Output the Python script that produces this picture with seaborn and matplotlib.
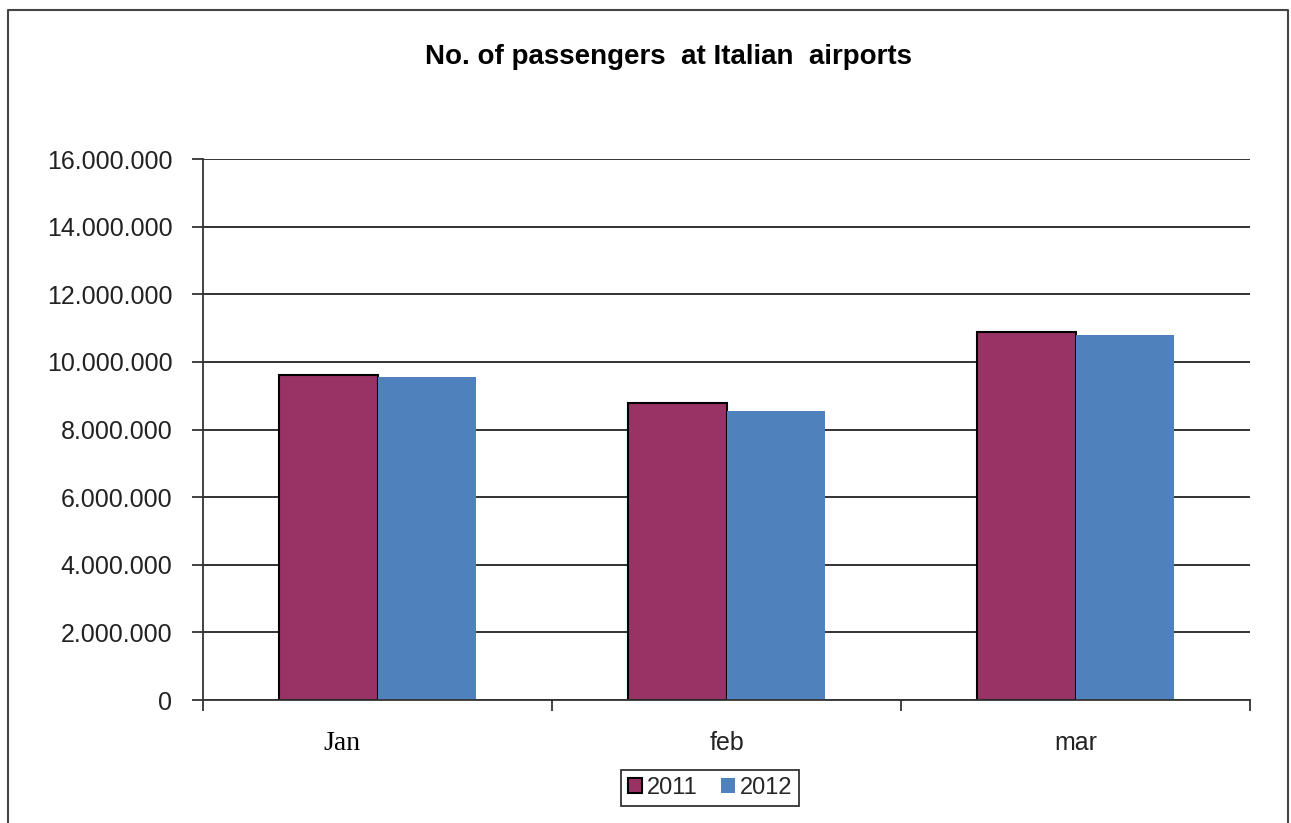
import matplotlib
matplotlib.use("Agg")
import matplotlib.pyplot as plt
import seaborn as sns
import pandas as pd
from matplotlib.patches import Patch
from matplotlib.lines import Line2D
from matplotlib.ticker import FuncFormatter, FixedLocator
from matplotlib.transforms import ScaledTranslation

months = ["Jan", "feb", "mar"]
series = ["2011", "2012"]
values_2011 = [9610000, 8780000, 10880000]
values_2012 = [9550000, 8550000, 10790000]
colors = {"2011": "#993366", "2012": "#4F81BD"}
yticks = list(range(0, 16000001, 2000000))

df = pd.DataFrame({
    "month": months * 2,
    "year": ["2011"] * 3 + ["2012"] * 3,
    "value": values_2011 + values_2012,
})

sns.set_style("white")
plt.rcParams["font.family"] = ["Liberation Sans", "DejaVu Sans"]

fig = plt.figure(figsize=(12.91, 8.23), dpi=100)
ax = fig.add_axes([203/1291, 1-700/823, (1250-203)/1291, (700-159)/823])

sns.barplot(data=df, x="month", y="value", hue="year", order=months,
            hue_order=series, palette=colors, width=0.567, saturation=1,
            ax=ax, legend=False, linewidth=0)

for i, p in enumerate(ax.patches):
    if i < 3:
        p.set_edgecolor("black")
        p.set_linewidth(1.5)
    else:
        p.set_linewidth(0)

ax.set_xlim(-0.5, 2.5)
ax.set_ylim(0, 16000000)
ax.set_yticks(yticks)
ax.yaxis.set_major_formatter(FuncFormatter(lambda v, p: f"{int(v):,}".replace(",", ".")))
ax.grid(axis="y", color="#222222", linewidth=1.3)
ax.set_axisbelow(True)
for s in ["top", "right"]:
    ax.spines[s].set_visible(False)
for s in ["left", "bottom"]:
    ax.spines[s].set_color("#333333")
    ax.spines[s].set_linewidth(1.3)

ax.tick_params(axis="y", which="major", direction="out", length=8, width=1.3,
               color="#333333", labelsize=18, pad=14, left=True, labelcolor="#222222")
ax.tick_params(axis="x", which="major", length=0, labelsize=18, pad=22, labelcolor="#222222")
ax.xaxis.set_minor_locator(FixedLocator([-0.5, 0.5, 1.5, 2.5]))
ax.tick_params(axis="x", which="minor", direction="out", length=8, width=1.3,
               color="#333333", bottom=True)
ax.set_xlabel("")
ax.set_ylabel("")
for lbl in ax.get_xticklabels():
    if lbl.get_text() == "Jan":
        lbl.set_family(["Liberation Serif", "DejaVu Serif"])
        lbl.set_fontsize(20)
        lbl.set_color("black")
        lbl.set_transform(lbl.get_transform() + ScaledTranslation(-0.36, 0, fig.dpi_scale_trans))

fig.text(0.518, 1-57/823, "No. of passengers  at Italian  airports", ha="center",
         va="center", fontsize=20, fontweight="bold", color="black")

handles = [Patch(facecolor=colors["2011"], edgecolor="black", linewidth=1.5, label="2011"),
           Patch(facecolor=colors["2012"], edgecolor="none", label="2012")]
leg = fig.legend(handles=handles, loc="center", bbox_to_anchor=(710/1291, 1-788/823),
                 ncol=2, fontsize=17, frameon=True, fancybox=False, handlelength=0.6,
                 handleheight=0.6, handletextpad=0.2, columnspacing=1.0,
                 borderpad=0.3, borderaxespad=0)
leg.get_frame().set_edgecolor("black")
leg.get_frame().set_linewidth(1.3)

fig.add_artist(Line2D([8/1291, 8/1291, 1288/1291, 1288/1291],
                      [-0.01, 1-10/823, 1-10/823, -0.01], transform=fig.transFigure,
                      color="#444444", linewidth=1.5))

fig.savefig("out.png", dpi=100)
